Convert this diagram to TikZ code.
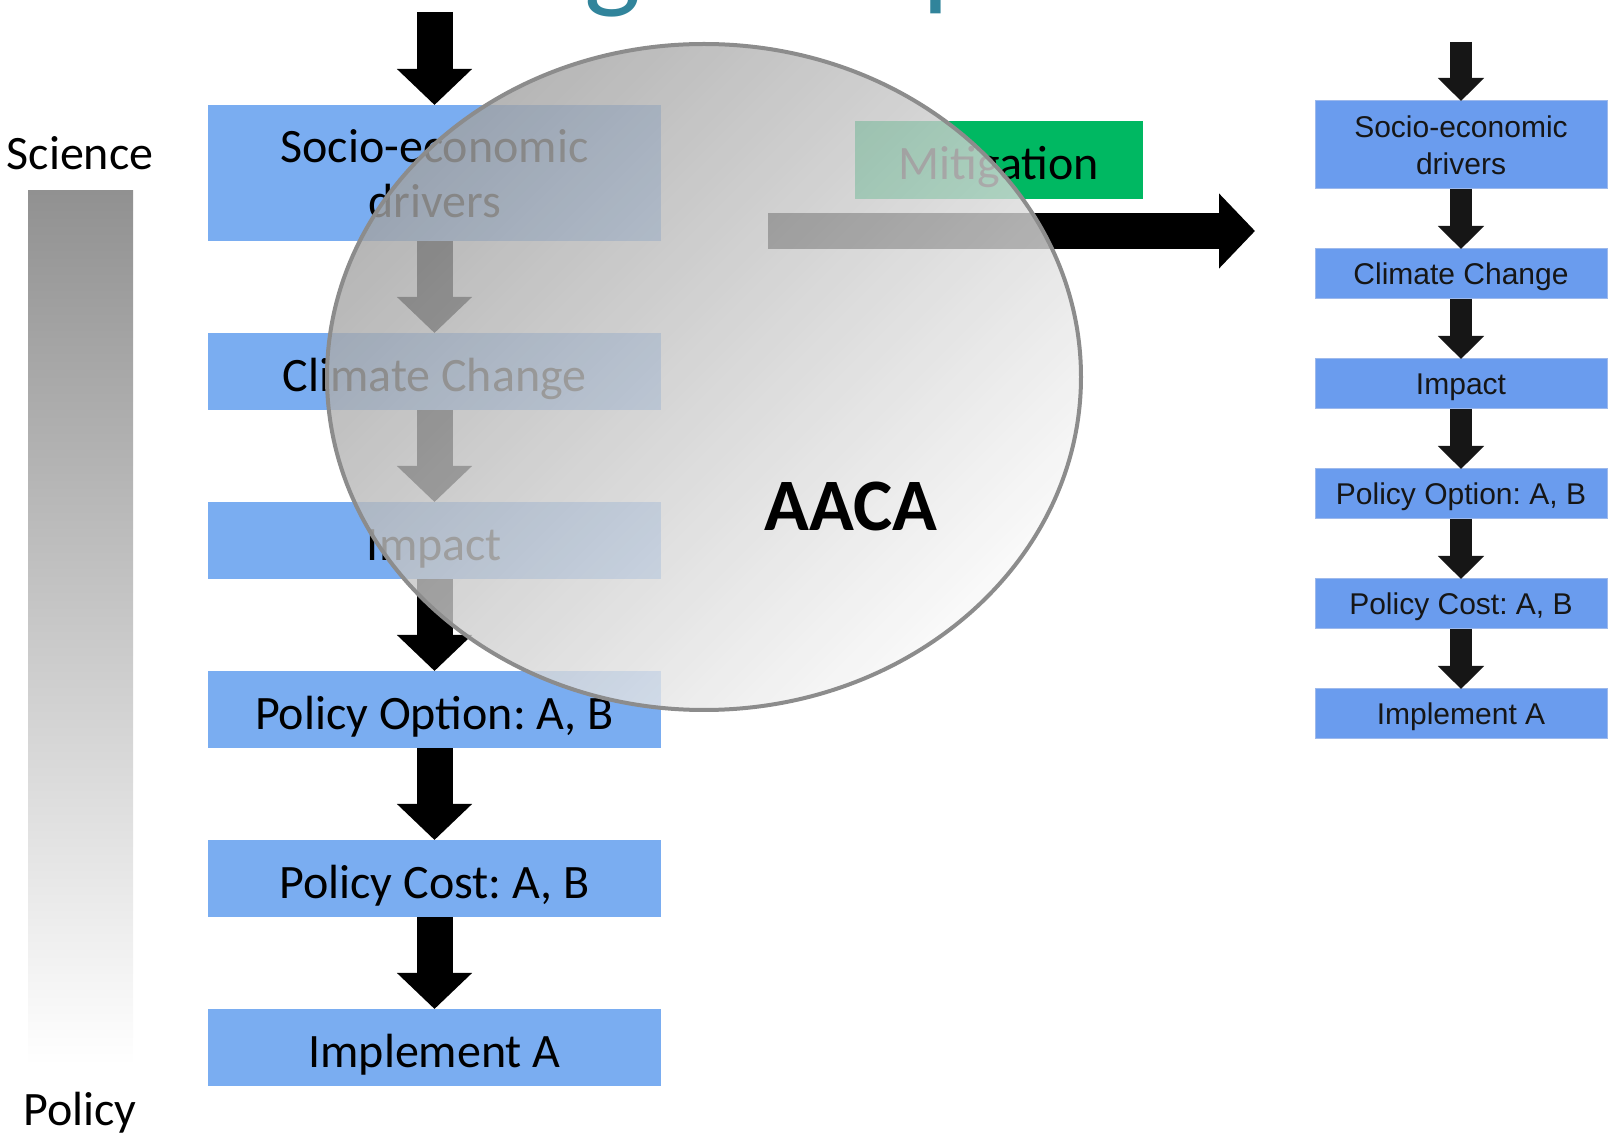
\documentclass[tikz,border=0pt]{standalone}
\usepackage{fontspec}
\setmainfont{Carlito}
\newfontfamily\arialfont{Liberation Sans}
\usetikzlibrary{positioning,arrows.meta}
\frenchspacing

\definecolor{stageblue}{HTML}{7AADF1}
\definecolor{stepblue}{HTML}{6A9CEE}
\definecolor{stepedge}{HTML}{9DB9EC}
\definecolor{steptext}{HTML}{161616}
\definecolor{mitgreen}{HTML}{00B862}
\definecolor{bartop}{HTML}{919191}
\definecolor{lenstop}{HTML}{A2A2A2}
\definecolor{lensbottom}{HTML}{F8F8F8}
\definecolor{lensedge}{HTML}{8C8C8C}
\definecolor{titleteal}{HTML}{31849B}

\begin{document}
\begin{tikzpicture}
    [x=0.5pt, y=-0.5pt,
    every node/.style={inner sep=0pt, outer sep=0pt},
    stage/.style={fill=stageblue, minimum width=226.5pt, minimum height=38.5pt,
        align=center, text height=20pt, text depth=0pt, font=\fontsize{24}{27.5}\selectfont},
    stepbox/.style={fill=stepblue, draw=stepedge, line width=0.5pt,
        minimum width=146pt, minimum height=25pt, align=center, text=steptext,
        text depth=0pt, font=\arialfont\fontsize{15}{18.5}\selectfont},
    fatarrow/.style={line width=18pt, -{Triangle[width=36.5pt,length=18pt]}},
    thinarrow/.style={steptext, line width=11pt, -{Triangle[width=22.5pt,length=11.5pt]}}
    ]
    \useasboundingbox (0,0) rectangle (1614,1138);

    % title, only its descenders are left on the page
    \node (titleg) [anchor=base west, text=titleteal, font=\fontsize{60}{60}\selectfont] at (584,-3) {g};
    \node (titlep) [anchor=base west, text=titleteal, font=\fontsize{60}{60}\selectfont] at (922,-5) {p};

    % science -> policy scale
    \shade[top color=bartop, bottom color=white] (28,191) rectangle (133,1065);
    \node (science) [anchor=base, font=\fontsize{24}{27.5}\selectfont] at (80,170) {Science};
    \node (policy) [anchor=base, font=\fontsize{24}{27.5}\selectfont] at (80,1126) {Policy};

    % chain under the lens
    \node (drv) [stage, minimum height=68pt, text height=, anchor=north] at (434.5,105) {Socio-economic\\drivers};
    \node (cc) [stage, below=46pt of drv] {Climate Change};
    \node (imp) [stage, below=46pt of cc] {Impact};
    \node (opt) [stage, below=46pt of imp] {Policy Option: A, B};
    \node (cost) [stage, below=46pt of opt] {Policy Cost: A, B};
    \node (impl) [stage, below=46pt of cost] {Implement A};

    \coordinate (drvin) at (434.5,12);
    \draw[fatarrow] (drvin) -- (drv);
    \draw[fatarrow] (drv) -- (cc);
    \draw[fatarrow] (cc) -- (imp);
    \draw[fatarrow] (imp) -- (opt);
    \draw[fatarrow] (opt) -- (cost);
    \draw[fatarrow] (cost) -- (impl);

    \node (mit) [fill=mitgreen, minimum width=144pt, minimum height=39pt, text height=20pt,
        text depth=0pt, font=\fontsize{24}{27.5}\selectfont] at (999,160) {Mitigation};
    \coordinate (mitfrom) at (768,231);
    \coordinate (mitto) at (1255,231);
    \draw[fatarrow] (mitfrom) -- (mitto);

    % chain after the lens
    \node (drvR) [stepbox, minimum height=44pt, anchor=north] at (1461,101) {Socio-economic\\drivers};
    \node (ccR) [stepbox, below=30pt of drvR] {Climate Change};
    \node (impR) [stepbox, below=30pt of ccR] {Impact};
    \node (optR) [stepbox, below=30pt of impR] {Policy Option: A, B};
    \node (costR) [stepbox, below=30pt of optR] {Policy Cost: A, B};
    \node (implR) [stepbox, below=30pt of costR] {Implement A};

    \coordinate (drvRin) at (1461,42);
    \draw[thinarrow] (drvRin) -- (drvR);
    \draw[thinarrow] (drvR) -- (ccR);
    \draw[thinarrow] (ccR) -- (impR);
    \draw[thinarrow] (impR) -- (optR);
    \draw[thinarrow] (optR) -- (costR);
    \draw[thinarrow] (costR) -- (implR);

    % the lens
    \shade[top color=lenstop, bottom color=lensbottom, shading angle=45, fill opacity=0.8]
        (704,377) ellipse [x radius=188.5pt, y radius=166.5pt];
    \draw[lensedge, line width=2pt] (704,377) ellipse [x radius=188.5pt, y radius=166.5pt];
    \node (aaca) [font=\bfseries\fontsize{37}{40}\selectfont] at (851,506) {AACA};
\end{tikzpicture}
\end{document}
